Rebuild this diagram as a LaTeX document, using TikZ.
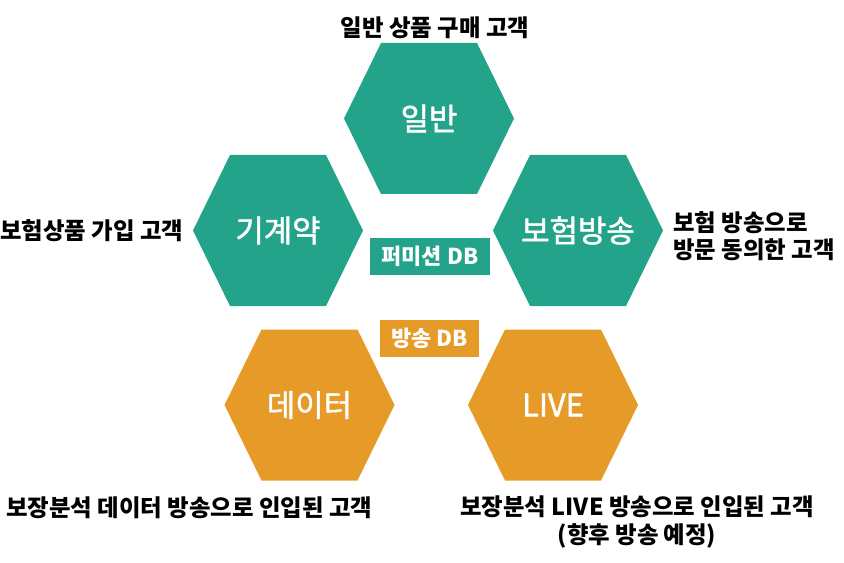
\documentclass[tikz,border=0pt]{standalone}
\usepackage{fontspec}
\setmainfont{Noto Sans CJK KR}
\newfontfamily\hexfont{Noto Sans CJK KR}[FakeBold=1.5]
\definecolor{hexteal}{RGB}{34,163,138}
\definecolor{hexorange}{RGB}{230,154,40}
\begin{document}
\begin{tikzpicture}[x=1bp,y=-1bp,
  hexlabel/.style={text=white,font=\hexfont\fontsize{31}{34}\selectfont,inner sep=0pt},
  caption/.style={text=black,font=\bfseries\fontsize{23.5}{27.5}\selectfont,inner sep=0pt},
  dbtag/.style={text=white,font=\bfseries\fontsize{22}{24}\selectfont,minimum height=37bp,inner sep=0pt},
  pics/hexagon/.style={code={\fill[#1] (-85,0) -- (-48,-75.5) -- (48,-75.5) -- (85,0) -- (48,75.5) -- (-48,75.5) -- cycle;}}]
\useasboundingbox (0,0) rectangle (844,563);

% hexagon centres
\coordinate (cGeneral)   at (429,118.5);
\coordinate (cContract)  at (278,230.5);
\coordinate (cCast)      at (578,230.5);
\coordinate (cData)      at (309.5,405);
\coordinate (cLive)      at (553,405);

% hexagon bodies
\pic at (cGeneral)  {hexagon=hexteal};
\pic at (cContract) {hexagon=hexteal};
\pic at (cCast)     {hexagon=hexteal};
\pic at (cData)     {hexagon=hexorange};
\pic at (cLive)     {hexagon=hexorange};

% hexagon titles
\node[hexlabel] (general)  at (cGeneral)  {일반};
\node[hexlabel] (contract) at (cContract) {기계약};
\node[hexlabel] (cast)     at (cCast)     {보험방송};
\node[hexlabel] (data)     at (cData)     {데이터};
\node[hexlabel] (live)     at (cLive)     {LIVE};

% database tags
\node[dbtag,fill=hexteal,minimum width=120bp]  (permdb) at (430,256.5) {퍼미션 DB};
\node[dbtag,fill=hexorange,minimum width=99bp] (castdb) at (429.5,338.5) {방송 DB};

% customer descriptions
\node[caption] (capGeneral)  at (435,28) {일반 상품 구매 고객};
\node[caption,anchor=west] (capContract) at (0,231) {보험상품 가입 고객};
\node[caption,anchor=west,align=left] (capCast) at (673,236) {보험 방송으로\\방문 동의한 고객};
\node[caption,anchor=west] (capData) at (6,508) {보장분석 데이터 방송으로 인입된 고객};
\node[caption,align=center] (capLive) at (637,522) {보장분석 LIVE 방송으로 인입된 고객\\(향후 방송 예정)};
\end{tikzpicture}
\end{document}
